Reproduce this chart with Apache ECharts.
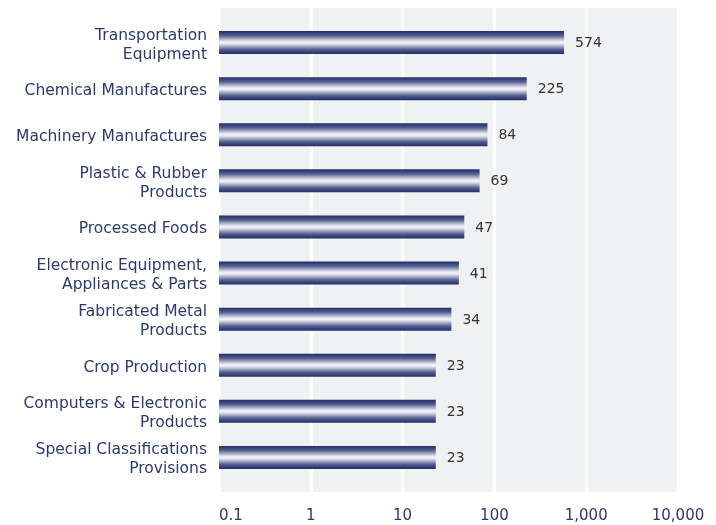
<!DOCTYPE html>
<html><head><meta charset="utf-8">
<script src="https://cdn.jsdelivr.net/npm/echarts@6/dist/echarts.min.js"></script>
<style>html,body{margin:0;padding:0;background:#fff}#c{width:716px;height:525px}</style>
</head><body><div id="c"></div>
<script>
const categories = [
  "Transportation\nEquipment",
  "Chemical Manufactures",
  "Machinery Manufactures",
  "Plastic & Rubber\nProducts",
  "Processed Foods",
  "Electronic Equipment,\nAppliances & Parts",
  "Fabricated Metal\nProducts",
  "Crop Production",
  "Computers & Electronic\nProducts",
  "Special Classifications\nProvisions"
];
const values = [574, 225, 84, 69, 47, 41, 34, 23, 23, 23];
const axisMin = 0.1, axisMax = 10000;

const FONT = "DejaVu Sans";
const NAVY = "#2b3a6e";
const chart = echarts.init(document.getElementById('c'), null, {renderer: 'canvas'});
const fmt = v => {
  const r = Math.round(v * 10) / 10;
  return r.toLocaleString('en-US', {maximumFractionDigits: 1});
};
const barGrad = () => new echarts.graphic.LinearGradient(0, 0, 0, 1, [
  {offset: 0, color: '#1f2d66'},
  {offset: 0.2, color: '#55608f'},
  {offset: 0.42, color: '#d8d9e6'},
  {offset: 0.5, color: '#f6f6fa'},
  {offset: 0.58, color: '#d8d9e6'},
  {offset: 0.8, color: '#55608f'},
  {offset: 1, color: '#1f2d66'}
]);
chart.setOption({
  animation: false,
  grid: [
    {left: 219, top: 8, width: 459, height: 484, show: true, backgroundColor: '#f0f1f3', borderWidth: 0},
    {left: 219, top: 19.5, width: 459, height: 461, show: false},
    {left: 219, top: 22, width: 459, height: 461, show: false}
  ],
  xAxis: [
    {gridIndex: 0, type: 'log', logBase: 10, min: axisMin, max: axisMax,
     axisLine: {show: false}, axisTick: {show: false},
     splitLine: {show: true, lineStyle: {color: '#ffffff', width: 3}},
     axisLabel: {show: true, margin: 17, color: NAVY, fontFamily: FONT, fontSize: 15,
       alignMinLabel: 'left', formatter: fmt}},
    {gridIndex: 1, type: 'log', logBase: 10, min: axisMin, max: axisMax, show: false,
     splitLine: {show: false}},
    {gridIndex: 2, type: 'log', logBase: 10, min: axisMin, max: axisMax, show: false,
     splitLine: {show: false}}
  ],
  yAxis: [
    {gridIndex: 0, type: 'value', show: false, splitLine: {show: false}},
    {gridIndex: 1, type: 'category', data: categories, inverse: true, show: false},
    {gridIndex: 2, type: 'category', data: categories, inverse: true,
     axisLine: {show: false}, axisTick: {show: false}, splitLine: {show: false},
     axisLabel: {interval: 0, hideOverlap: false, margin: 12, color: NAVY, fontFamily: FONT,
       fontSize: 15.5, lineHeight: 19, align: 'right'}}
  ],
  series: [{
    type: 'custom', xAxisIndex: 1, yAxisIndex: 1,
    data: values.map((v, i) => [v, i]),
    encode: {x: 0, y: 1},
    renderItem: function (params, api) {
      const v = api.value(0), i = api.value(1);
      const start = api.coord([axisMin, i]);
      const end = api.coord([v, i]);
      const h = 23;
      return {
        type: 'group',
        children: [
          {type: 'rect', shape: {x: start[0], y: start[1] - h / 2, width: end[0] - start[0], height: h},
           style: {fill: barGrad()}},
          {type: 'text', style: {text: String(v), x: end[0] + 11, y: end[1] + 1, verticalAlign: 'middle',
            align: 'left', fill: '#333333', font: '14px "' + FONT + '"'}}
        ]
      };
    }
  }]
});
</script></body></html>
